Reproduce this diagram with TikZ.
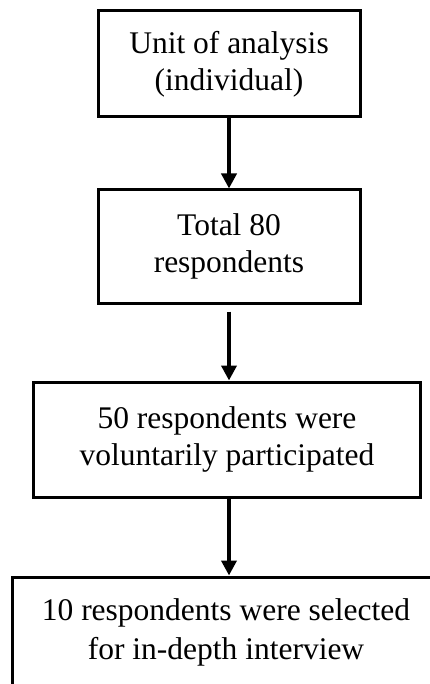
\documentclass[tikz,border=0pt]{standalone}
\usepackage{fontspec}
\setmainfont{Liberation Serif}
\usepackage{tikz}
\usetikzlibrary{arrows.meta, positioning}

\begin{document}
\begin{tikzpicture}[
    x=1pt, y=1pt,
    stagebox/.style={rectangle, draw, line width=3pt, align=center, font=\fontsize{31.5}{37}\selectfont},
    flow/.style={line width=4pt, -{Triangle[length=15pt, width=15pt]}}
]
% Page
\clip (0,0) rectangle (430,-684);
\useasboundingbox (0,0) rectangle (430,-684);

% Boxes
\node[stagebox, minimum width=262pt, minimum height=106pt] (unit) at (229,-64) {Unit of analysis\\(individual)};
\node[stagebox, minimum width=262pt, minimum height=113pt] (total) at (229,-246.5) {Total 80\\respondents};
\node[stagebox, minimum width=387pt, minimum height=115pt] (part) at (227,-439.5) {50 respondents were\\voluntarily participated};
\node[stagebox, minimum width=428pt, minimum height=110pt, font=\fontsize{31.5}{39}\selectfont] (select) at (226,-632) {10 respondents were selected\\for in-depth interview};

% Arrows
\draw[flow] (unit.south) -- (total.north);
\draw[flow] ([yshift=-7pt]total.south) -- (part.north -| total.south);
\draw[flow] (part.south -| total.south) -- (select.north -| total.south);

\end{tikzpicture}
\end{document}
